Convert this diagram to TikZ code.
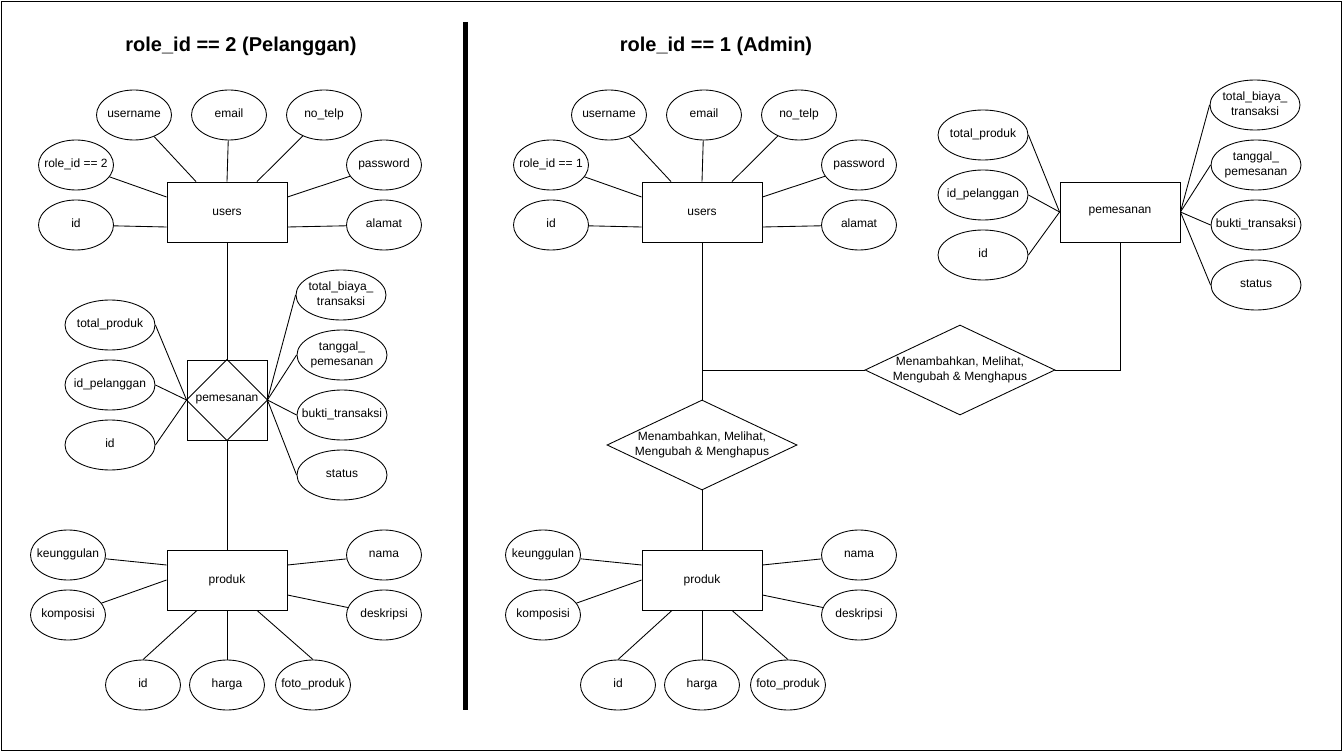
\documentclass[tikz,border=0pt]{standalone}
\usepackage{fontspec}
\setmainfont{Liberation Sans}
\usetikzlibrary{shapes.geometric}
\newcommand{\atx}[1]{\makebox[0pt]{\begin{tabular}{@{}c@{}}#1\end{tabular}}}
\tikzset{
    attr/.style={draw,ellipse,minimum width=56.25pt,minimum height=37.5pt,inner sep=0pt},
    wattr/.style={attr,minimum width=67.5pt},
    entity/.style={draw,minimum width=90pt,minimum height=45pt},
    rel/.style={draw,diamond,minimum width=142.5pt,minimum height=67.5pt,inner sep=0pt},
    ttl/.style={font=\fontsize{15}{18}\selectfont\bfseries}
}
\begin{document}
\begin{tikzpicture}[x=0.75pt,y=-0.75pt,font=\fontsize{9}{11}\selectfont,line width=0.65pt]
\useasboundingbox(0,0)rectangle(1342,752);
\draw(1,1)rectangle(1341,750);
\draw[line width=3.75pt](465,22)--(465,710);
\node[ttl] (t-p) at (241,46) {role\_id == 2 (Pelanggan)};
\node[ttl] (t-a) at (716,46) {role\_id == 1 (Admin)};
\foreach \s/\dx/\rid in {p/0/2,a/475/1}
{
    \node[entity] (\s-users) at (227+\dx,212) {users};
    \node[attr] (\s-username) at (134+\dx,115) {\atx{username}};
    \node[attr] (\s-email) at (229+\dx,115) {\atx{email}};
    \node[attr] (\s-notelp) at (324+\dx,115) {\atx{no\_telp}};
    \node[attr] (\s-role) at (76+\dx,165) {\atx{role\_id == \rid}};
    \node[attr] (\s-password) at (384+\dx,165) {\atx{password}};
    \node[attr] (\s-id) at (76+\dx,225) {\atx{id}};
    \node[attr] (\s-alamat) at (384+\dx,225) {\atx{alamat}};
    \draw(\s-username)--([xshift=-23.25pt]\s-users.north);
    \draw(\s-email)--(\s-users.north);
    \draw(\s-notelp)--([xshift=22.5pt]\s-users.north);
    \draw(\s-role)--([yshift=11.25pt]\s-users.west);
    \draw(\s-password)--([yshift=11.25pt]\s-users.east);
    \draw(\s-id)--([yshift=-11.25pt]\s-users.west);
    \draw(\s-alamat)--([yshift=-11.25pt]\s-users.east);

    \node[entity] (\s-produk) at (227+\dx,580) {produk};
    \node[attr] (\s-keung) at (68+\dx,555) {\atx{keunggulan}};
    \node[attr] (\s-kompo) at (68+\dx,615) {\atx{komposisi}};
    \node[attr] (\s-nama) at (384+\dx,555) {\atx{nama}};
    \node[attr] (\s-deskr) at (384+\dx,615) {\atx{deskripsi}};
    \node[attr] (\s-pid) at (143+\dx,685) {\atx{id}};
    \node[attr] (\s-harga) at (227+\dx,685) {\atx{harga}};
    \node[attr] (\s-foto) at (313+\dx,685) {\atx{foto\_produk}};
    \draw(\s-keung)--([yshift=11.25pt]\s-produk.west);
    \draw(\s-kompo)--(\s-produk.west);
    \draw(\s-nama)--([yshift=11.25pt]\s-produk.east);
    \draw(\s-deskr)--([yshift=-11.25pt]\s-produk.east);
    \draw(\s-pid.north)--([xshift=-22.5pt]\s-produk.south);
    \draw(\s-harga)--(\s-produk.south);
    \draw(\s-foto.north)--([xshift=22.5pt]\s-produk.south);
}

\node[draw,minimum size=60pt,inner sep=0pt] (p-pms) at (227,400) {pemesanan};
\draw(p-pms.north)--(p-pms.east)--(p-pms.south)--(p-pms.west)--cycle;
\draw(p-users)--(p-pms);
\draw(p-pms)--(p-produk);

\node[entity] (a-pms) at (1120,212) {pemesanan};
\node[rel] (a-rel1) at (702,445) {\atx{Menambahkan, Melihat,\\Mengubah \& Menghapus}};
\node[rel] (a-rel2) at (960,370) {\atx{Menambahkan, Melihat,\\Mengubah \& Menghapus}};
\coordinate (a-j) at (702,370);
\draw(a-users)--(a-rel1);
\draw(a-j)--(a-rel2);
\draw(a-rel2.east)-|(a-pms);
\draw(a-rel1)--(a-produk);

\foreach \s/\dx/\dy/\ex/\ey in {p/110/325/341/295,a/983/135/1255/105}
{
    \node[wattr] (\s-tprod) at (\dx,\dy) {\atx{total\_produk}};
    \node[wattr] (\s-idpel) at (\dx,\dy+60) {\atx{id\_pelanggan}};
    \node[wattr] (\s-idp) at (\dx,\dy+120) {\atx{id}};
    \node[wattr] (\s-tbiaya) at (\ex,\ey) {\atx{total\_biaya\_\\transaksi}};
    \node[wattr] (\s-tgl) at (\ex+1,\ey+60) {\atx{tanggal\_\\pemesanan}};
    \node[wattr] (\s-bukti) at (\ex+1,\ey+120) {\atx{bukti\_transaksi}};
    \node[wattr] (\s-status) at (\ex+1,\ey+180) {\atx{status}};
    \foreach \n in {tprod,idpel,idp}
        \draw(\s-\n.east)--(\s-pms.west);
    \foreach \n in {tbiaya,tgl,bukti,status}
        \draw(\s-\n.west)--(\s-pms.east);
}
\end{tikzpicture}
\end{document}
